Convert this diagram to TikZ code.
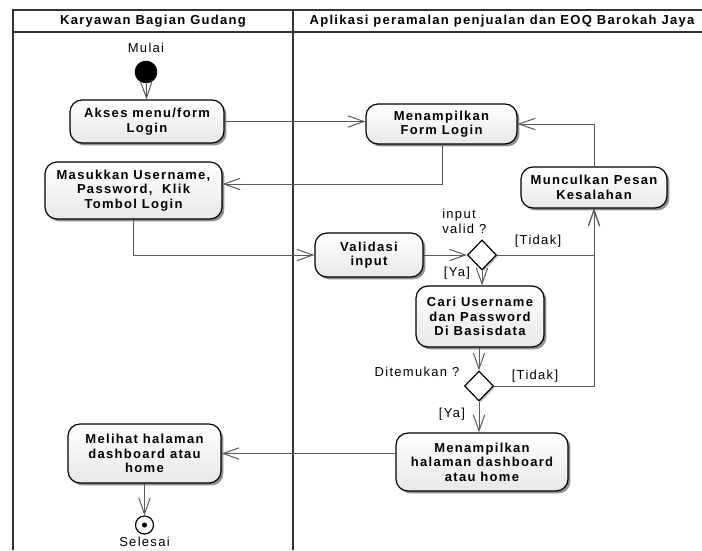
\documentclass[tikz,border=0pt]{standalone}
\usepackage{fontspec}
\setmainfont{Liberation Sans}[LetterSpace=10]
\usetikzlibrary{arrows.meta,shapes.geometric,shadows}
\begin{document}
\begin{tikzpicture}[x=0.75pt,y=-0.75pt,
  act/.style={rectangle, rounded corners=9pt, draw=black, line width=0.9pt,
    top color=white, bottom color=gray!18,
    drop shadow={shadow xshift=1.8pt,shadow yshift=-1.8pt,fill=black!55,opacity=0.8},
    font=\fontsize{9.75}{10.8}\selectfont\bfseries, align=center, inner sep=0pt},
  dec/.style={diamond, draw=black, line width=0.9pt, fill=white, inner sep=0pt,
    minimum width=21.75pt, minimum height=22.5pt,
    drop shadow={shadow xshift=1.2pt,shadow yshift=-1.2pt,fill=black!40,opacity=0.6}},
  lbl/.style={font=\fontsize{9.75}{10.8}\selectfont, inner sep=0pt},
  hdr/.style={font=\fontsize{9.75}{10.8}\selectfont\bfseries, inner sep=0pt},
  conn/.style={draw=black!65, line width=0.75pt, -{Straight Barb[length=12pt,width=8.5pt]}},
  lane/.style={draw=black!80, line width=0.9pt}]
\useasboundingbox (0,0) rectangle (702,550);
\fill[white] (0,0) rectangle (702,550);
% swimlanes
\draw[lane] (702,10) -- (13,10) -- (13,550);
\draw[lane] (13,32) -- (702,32);
\draw[lane] (293,10) -- (293,550);
\node[hdr] (h1) at (153,21) {Karyawan Bagian Gudang};
\node[hdr] (h2) at (502,21) {Aplikasi peramalan penjualan dan EOQ Barokah Jaya};
% nodes
\node[lbl] (mulai) at (146,48) {Mulai};
\node[circle, fill=black, minimum size=17pt, inner sep=0pt] (start) at (146,72) {};
\node[act, minimum width=115.5pt, minimum height=32.25pt] (akses) at (147,121.5) {Akses menu/form\\Login};
\node[act, minimum width=132.75pt, minimum height=42.75pt] (masuk) at (133.5,190.5) {Masukkan Username,\\Password,\ \ Klik\\Tombol Login};
\node[act, minimum width=113.25pt, minimum height=30pt] (form) at (441.5,124) {Menampilkan\\Form Login};
\node[act, minimum width=109.5pt, minimum height=30.75pt] (pesan) at (594,187.5) {Munculkan Pesan\\Kesalahan};
\node[act, minimum width=81pt, minimum height=33pt] (valid) at (369,255) {Validasi\\input};
\node[dec] (d1) at (482,255) {};
\node[act, minimum width=96pt, minimum height=45.75pt] (cari) at (480,316.5) {Cari Username\\dan Password\\Di Basisdata};
\node[dec] (d2) at (479,386) {};
\node[act, minimum width=129pt, minimum height=43.5pt] (dash) at (482,462) {Menampilkan\\halaman dashboard\\atau home};
\node[act, minimum width=114.75pt, minimum height=44.25pt] (lihat) at (144.5,453.5) {Melihat halaman\\dashboard atau\\home};
\node[circle, draw=black, line width=0.9pt, fill=white, minimum size=13.5pt, inner sep=0pt] (end) at (144.5,525) {};
\node[circle, fill=black, minimum size=3.8pt, inner sep=0pt] (enddot) at (end) {};
\node[lbl] (selesai) at (144.5,542) {Selesai};
% labels
\node[lbl, align=left, anchor=west] (q1) at (442,221.5) {input\\valid ?};
\node[lbl] (t1) at (538,241) {[Tidak]};
\node[lbl] (y1) at (457,273) {[Ya]};
\node[lbl] (q2) at (417,372) {Ditemukan ?};
\node[lbl] (t2) at (535,376) {[Tidak]};
\node[lbl] (y2) at (452,414) {[Ya]};
% connectors
\coordinate (c1) at (442,184);
\draw[conn] (start) -- (akses);
\draw[conn] (akses.east) -- (akses.east -| form.west);
\draw[conn] (form.south -| c1) -- (c1) -- (c1 -| masuk.east);
\draw[conn] (masuk.south) |- (valid.west);
\draw[conn] (valid.east) -- (d1.west);
\draw[conn] (d1.east) -| (pesan.south);
\draw[conn] (d1.south) -- (d1.south |- cari.north);
\draw[conn] (d2.north |- cari.south) -- (d2.north);
\draw[conn] (d2.east) -| (pesan.south);
\draw[conn] (d2.south) -- (d2.south |- dash.north);
\draw[conn] (dash.west |- lihat.east) -- (lihat.east);
\draw[conn] (pesan.north) |- (form.east);
\draw[conn] (lihat.south) -- (end.north);
\end{tikzpicture}
\end{document}
